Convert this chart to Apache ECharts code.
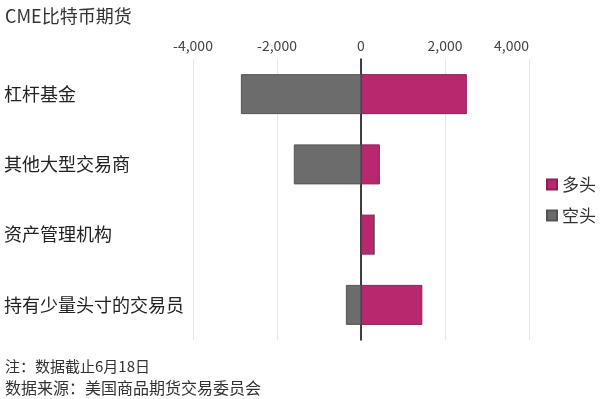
<!DOCTYPE html>
<html>
<head>
<meta charset="utf-8">
<script src="https://cdn.jsdelivr.net/npm/echarts@6/dist/echarts.min.js"></script>
<style>html,body{margin:0;padding:0;background:#fff}#c{width:600px;height:399px}</style>
</head>
<body>
<div id="c"></div>
<script>
const categories = ['杠杆基金', '其他大型交易商', '资产管理机构', '持有少量头寸的交易员'];
const longValues = [2520, 450, 310, 1460];
const shortValues = [-2860, -1600, 0, -360];
const xTicks = { min: -4000, max: 4000, interval: 2000 };

const FONT = '"Noto Sans CJK SC", "Noto Sans", sans-serif';
const chart = echarts.init(document.getElementById('c'));
chart.setOption({
  backgroundColor: '#fff',
  animation: false,
  textStyle: { fontFamily: FONT },
  title: [
    { text: 'CME比特币期货', left: 0, top: 2, textStyle: { fontSize: 18, fontWeight: 'normal', color: '#333', fontFamily: FONT } },
    { text: '注：数据截止6月18日', left: 0, top: 354, textStyle: { fontSize: 15, fontWeight: 'normal', color: '#333', fontFamily: FONT } },
    { text: '数据来源：美国商品期货交易委员会', left: 0, top: 375, textStyle: { fontSize: 16, fontWeight: 'normal', color: '#333', fontFamily: FONT } }
  ],
  legend: {
    orient: 'vertical', left: 541, top: 171, itemWidth: 10, itemHeight: 10, itemGap: 14,
    icon: 'rect',
    textStyle: { fontSize: 17, color: '#333', fontFamily: FONT },
    data: ['多头', '空头']
  },
  grid: { left: 193, right: 71, top: 59, bottom: 59 },
  xAxis: {
    type: 'value', position: 'top', min: xTicks.min, max: xTicks.max, interval: xTicks.interval,
    axisLine: { show: false }, axisTick: { show: false },
    axisLabel: { fontSize: 14, color: '#444', margin: 6, alignMaxLabel: 'right',
      formatter: v => v.toLocaleString('en-US') },
    splitLine: { show: true, lineStyle: { color: '#e6e6e6', width: 1 } }
  },
  yAxis: {
    type: 'category', data: categories, inverse: true,
    axisLine: { show: true, onZero: true, lineStyle: { color: '#000', width: 1.5 } },
    axisTick: { show: false },
    axisLabel: { align: 'left', margin: 189, fontSize: 18, color: '#222' }
  },
  series: [
    { name: '多头', type: 'bar', stack: 'a', data: longValues, barWidth: 40,
      itemStyle: { color: '#b8286f', borderColor: '#8e1f55', borderWidth: 1 } },
    { name: '空头', type: 'bar', stack: 'a', data: shortValues, barWidth: 40,
      itemStyle: { color: '#6c6c6c', borderColor: '#555', borderWidth: 1 } }
  ]
});
</script>
</body>
</html>
